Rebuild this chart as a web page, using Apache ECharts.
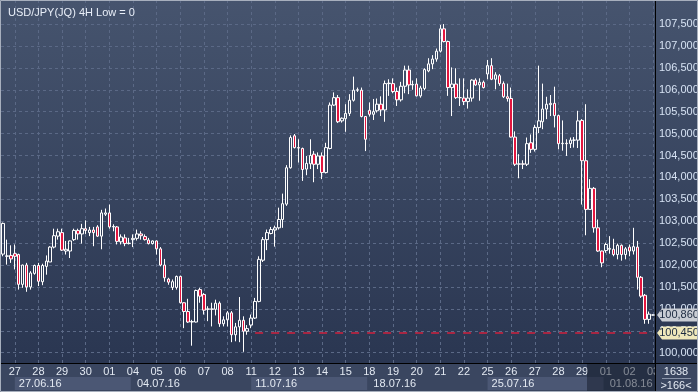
<!DOCTYPE html>
<html><head><meta charset="utf-8">
<script src="https://cdn.jsdelivr.net/npm/echarts@6/dist/echarts.min.js"></script>
<style>html,body{margin:0;padding:0;background:#2e3a52;}#c{width:698px;height:392px;}</style>
</head><body><div id="c"></div>
<script>
// ---- data ----
const days = ['24.06','27.06','28.06','29.06','30.06','01.07','04.07','05.07','06.07','07.07','08.07','11.07','12.07','13.07','14.07','15.07','18.07','19.07','20.07','21.07','22.07','25.07','26.07','27.07','28.07','29.07','01.08','02.08','03.08'];
const hours = ['00:00','04:00','08:00','12:00','16:00','20:00'];
const weekStarts = ['27.06','04.07','11.07','18.07','25.07','01.08'];
const yTicks = [100,100.5,101,101.5,102,102.5,103,103.5,104,104.5,105,105.5,106,106.5,107,107.5];
const supportLevel = 100.45;
const lastPrice = 100.86;
// [open, close, low, high]
const ohlc = [
[102.25,102.95,102.20,102.97],[102.20,102.21,102.01,102.58],[102.22,102.14,102.05,102.45],[102.26,102.20,101.90,102.47],
[102.24,101.56,101.44,102.26],[101.56,102.00,101.48,102.01],[102.00,101.50,101.39,102.05],[101.50,101.82,101.44,101.86],
[101.81,101.99,101.78,102.01],[101.99,101.63,101.52,102.05],[101.62,101.99,101.54,102.03],[101.97,102.09,101.78,102.22],
[102.07,102.41,102.07,102.43],[102.41,102.67,102.38,102.83],[102.66,102.76,102.58,102.83],[102.74,102.34,102.32,102.83],
[102.32,102.36,102.24,102.55],[102.32,102.55,102.16,102.56],[102.58,102.79,102.55,102.83],[102.79,102.71,102.58,102.83],
[102.71,102.83,102.49,102.94],[102.83,102.79,102.71,103.02],[102.74,102.80,102.66,102.87],[102.80,102.74,102.43,102.87],
[102.87,102.66,102.64,102.91],[102.66,103.19,102.36,103.26],[103.16,103.19,103.12,103.29],[103.19,102.87,102.83,103.38],
[102.87,102.88,102.77,102.93],[102.87,102.54,102.47,102.89],[102.53,102.64,102.47,102.70],[102.62,102.49,102.43,102.70],
[102.49,102.50,102.47,102.62],[102.58,102.61,102.41,102.70],[102.61,102.71,102.56,102.81],[102.71,102.67,102.58,102.77],
[102.65,102.58,102.56,102.70],[102.57,102.49,102.47,102.62],[102.49,102.55,102.47,102.56],[102.55,102.37,102.24,102.56],
[102.37,102.00,101.97,102.41],[102.00,101.71,101.62,102.14],[101.68,101.61,101.55,101.71],[101.49,101.62,101.43,101.67],
[101.49,101.74,101.44,101.76],[101.74,101.14,101.12,101.76],[101.14,100.94,100.56,101.15],[100.94,100.70,100.68,101.23],
[100.70,100.71,100.16,100.75],[100.70,101.42,100.69,101.44],[101.44,101.29,101.14,101.48],[101.33,100.97,100.87,101.36],
[100.99,101.00,100.72,101.06],[101.00,100.99,100.60,101.14],[100.99,101.13,100.85,101.21],[101.13,100.66,100.59,101.17],
[100.66,100.75,100.60,100.83],[100.75,100.91,100.60,100.95],[100.91,100.41,100.24,100.95],[100.41,100.59,100.26,100.68],
[100.59,100.74,100.24,101.27],[100.74,100.49,100.02,100.83],[100.49,100.55,100.41,100.63],[100.63,100.79,100.56,100.87],
[100.79,101.17,100.77,101.25],[101.17,102.13,101.15,102.20],[102.11,102.58,102.07,102.64],[102.58,102.74,102.34,102.81],
[102.72,102.81,102.70,102.87],[102.80,102.85,102.42,102.90],[102.85,103.04,102.81,103.31],[103.04,103.40,102.85,103.63],
[103.39,104.22,103.35,104.28],[104.22,104.91,104.20,104.96],[104.95,104.68,104.66,104.99],[104.68,104.67,104.34,104.87],
[104.66,104.18,103.92,104.68],[104.19,104.32,104.05,104.49],[104.31,104.50,104.19,104.87],[104.53,104.30,103.89,104.60],
[104.30,104.49,104.19,104.57],[104.49,104.11,103.96,104.57],[104.11,104.68,104.09,104.79],[104.66,105.65,104.64,105.71],
[105.65,105.82,105.63,105.94],[105.82,105.27,105.24,105.88],[105.29,105.35,105.25,105.37],[105.34,105.46,105.04,105.67],
[105.46,105.76,105.40,105.90],[105.76,105.99,105.73,106.30],[105.99,106.00,105.95,106.05],[105.99,105.39,105.37,106.05],
[105.39,104.87,104.60,105.40],[105.53,105.44,105.39,105.71],[105.44,105.50,105.31,105.79],[105.52,105.67,105.48,105.80],
[105.67,105.54,105.40,105.85],[105.54,106.14,105.27,106.21],[106.14,106.15,105.86,106.24],[106.14,105.96,105.92,106.26],
[105.96,105.77,105.63,106.05],[105.77,106.08,105.73,106.18],[106.08,106.45,105.92,106.55],[106.45,106.11,105.90,106.55],
[106.11,106.12,106.00,106.21],[106.13,105.86,105.85,106.26],[105.86,106.04,105.82,106.09],[106.03,106.46,105.99,106.49],
[106.43,106.59,106.40,106.72],[106.59,106.70,106.47,106.79],[106.70,106.88,106.64,106.94],[106.88,107.39,106.85,107.48],
[107.39,107.10,107.08,107.50],[107.10,106.05,105.86,107.12],[106.05,106.13,105.40,106.51],[106.13,105.82,105.79,106.49],
[105.82,105.82,105.63,106.26],[105.81,105.73,105.65,106.26],[105.73,105.81,105.57,106.01],[105.81,106.22,105.73,106.24],
[106.22,106.11,106.09,106.26],[106.11,106.17,105.75,106.26],[106.17,106.05,106.03,106.21],[106.36,106.55,106.24,106.68],
[106.55,106.24,106.22,106.72],[106.24,106.34,106.01,106.40],[106.32,106.14,106.09,106.36],[106.14,105.84,105.81,106.19],
[105.84,105.80,105.73,106.14],[105.80,104.92,104.91,106.05],[104.92,104.30,104.26,105.05],[104.30,104.31,103.98,104.53],
[104.31,104.30,104.19,104.39],[104.30,104.77,104.26,104.91],[104.79,104.64,104.56,104.98],[104.64,105.14,104.59,105.20],
[105.14,105.29,105.01,106.55],[105.27,105.56,105.10,106.14],[105.56,105.67,105.33,105.84],[105.66,105.69,105.40,105.88],
[105.69,105.41,105.14,106.07],[105.41,104.77,104.64,105.43],[104.77,104.78,104.61,105.30],[104.78,104.77,104.49,104.87],
[104.77,104.85,104.67,104.91],[104.85,104.85,104.68,104.92],[104.85,105.29,104.67,105.52],[105.30,104.38,103.38,105.33],
[104.38,103.27,102.68,105.67],[103.27,103.75,103.27,103.96],[103.75,102.85,102.74,103.78],[102.85,102.32,102.30,103.04],
[102.32,102.05,101.95,102.33],[102.33,102.47,102.28,102.51],[102.36,102.38,102.26,102.66],[102.36,102.24,102.20,102.60],
[102.24,102.45,102.13,102.49],[102.45,102.24,102.10,102.47],[102.24,102.37,102.13,102.41],[102.41,102.32,102.20,102.47],
[102.32,102.42,102.24,102.85],[102.41,101.72,101.44,102.55],[101.72,101.29,101.25,101.75],[101.31,100.76,100.66,101.34],
[100.76,100.88,100.66,100.94],[100.86,100.86,100.85,100.87]
];

// ---- categories ----
const categories = [];
days.forEach((d, k) => hours.forEach((h, j) => {
  if (k === 0 && j < 3) return;
  if (categories.length < ohlc.length) categories.push(d + ' ' + h);
}));
const lastCat = categories[categories.length - 1];
const supportStart = categories[64];
const fmtPrice = v => v.toFixed(3).replace('.', ',');
const FONT = '"Liberation Sans", Arial, sans-serif';

const chart = echarts.init(document.getElementById('c'), null, {renderer: 'canvas'});
const tagPath = 'path://M0,6.5 L5,0 L40,0 L40,13 L5,13 Z';
const splitY = 363 / 392;

chart.setOption({
  animation: false,
  backgroundColor: new echarts.graphic.LinearGradient(0, 0, 0, 1, [
    {offset: 0, color: '#46546e'}, {offset: splitY, color: '#2a3651'},
    {offset: splitY, color: '#3a4660'}, {offset: 1, color: '#3a4660'}]),
  title: {text: 'USD/JPY(JQ) 4H Low = 0', left: 3, top: 2,
    textStyle: {color: '#e8eef8', fontSize: 11, fontWeight: 'normal', fontFamily: FONT}},
  grid: {left: 1, right: 43, top: 0, bottom: 29, containLabel: false, outerBoundsMode: 'none'},
  xAxis: [{
    type: 'category', data: categories, boundaryGap: true,
    axisLine: {show: true, lineStyle: {color: '#000', width: 1}},
    axisTick: {show: false}, splitLine: {show: false},
    axisLabel: {interval: (i, v) => v.endsWith('00:00'), formatter: v => v.slice(0, 2), hideOverlap: false,
      color: '#e3e9f2', fontSize: 11, margin: 3, fontFamily: FONT}
  }, {
    type: 'category', data: categories, boundaryGap: true, position: 'bottom', offset: 14,
    axisLine: {show: false}, axisTick: {show: false}, splitLine: {show: false},
    axisLabel: {
      interval: (i, v) => v.endsWith('00:00') && weekStarts.includes(v.slice(0, 5)),
      formatter: v => { const k = weekStarts.indexOf(v.slice(0, 5)); return '{' + (k % 2 === 0 ? 'a' : 'b') + '|' + v.slice(0, 5) + '.16}'; },
      align: 'left', margin: 0, fontFamily: FONT, hideOverlap: false,
      rich: {
        a: {backgroundColor: '#4b5774', width: 112, height: 13, lineHeight: 13, padding: [0, 0, 0, 4], color: '#e3e9f2', fontSize: 11, fontFamily: FONT},
        b: {width: 40, height: 13, lineHeight: 13, padding: [0, 0, 0, 4], color: '#e3e9f2', fontSize: 11, fontFamily: FONT}
      }
    }
  }],
  yAxis: {
    type: 'value', position: 'right', min: 99.765, max: 108.048, scale: true,
    axisLine: {show: true, lineStyle: {color: '#000', width: 1}},
    axisTick: {show: false, customValues: yTicks}, splitLine: {show: false},
    axisLabel: {customValues: yTicks, formatter: fmtPrice, color: '#d6e2f3', fontSize: 11, margin: 4, fontFamily: FONT}
  },
  series: [{
    type: 'line', data: [], silent: true, z: 1,
    markLine: {
      z: 1, silent: true, symbol: 'none', animation: false, label: {show: false},
      lineStyle: {color: '#5b6986', type: [3, 3], width: 1},
      data: yTicks.map(v => ({yAxis: v})).concat(
        categories.filter(c => c.endsWith('00:00')).map(c => ({xAxis: c})))
    }
  }, {
    type: 'candlestick', data: ohlc, barWidth: 3, z: 3,
    itemStyle: {color: 'rgba(0,0,0,0)', color0: '#e3163f', borderColor: '#ffffff', borderColor0: '#ffffff', borderWidth: 1},
    markLine: {
      silent: true, symbol: 'none', animation: false, label: {show: false},
      lineStyle: {color: '#d0203e', type: [8, 8], width: 1.5},
      data: [[{coord: [supportStart, supportLevel]}, {coord: [lastCat, supportLevel]}]]
    },
    markPoint: {
      silent: true, animation: false,
      data: [
        {coord: [lastCat, lastPrice], symbol: tagPath, symbolSize: [40, 13], symbolOffset: [24, 0],
          itemStyle: {color: '#c9cdd4'}, label: {show: true, position: 'inside', offset: [2, 0], formatter: fmtPrice(lastPrice), color: '#1c2a40', fontSize: 11, fontFamily: FONT}},
        {coord: [lastCat, supportLevel], symbol: tagPath, symbolSize: [40, 13], symbolOffset: [24, 0],
          itemStyle: {color: '#efe8bb'}, label: {show: true, position: 'inside', offset: [2, 0], formatter: fmtPrice(supportLevel), color: '#1c2a40', fontSize: 11, fontFamily: FONT}}
      ]
    }
  }],
  graphic: [
    {type: 'rect', z: 100, silent: true, shape: {x: 587, y: 364, width: 68, height: 28}, style: {fill: 'rgba(14,20,34,0.45)'}},
    {type: 'rect', z: 101, silent: true, shape: {x: 656, y: 364, width: 42, height: 28}, style: {fill: '#3a4660'}},
    {type: 'line', z: 102, silent: true, shape: {x1: 655, y1: 363.5, x2: 698, y2: 363.5}, style: {stroke: '#000', lineWidth: 1}},
    {type: 'line', z: 102, silent: true, shape: {x1: 655.5, y1: 363, x2: 655.5, y2: 392}, style: {stroke: '#000', lineWidth: 1}},
    {type: 'text', z: 102, silent: true, x: 676, y: 366, style: {text: '1638', fill: '#e3e9f2', font: '11px ' + FONT, textAlign: 'center'}},
    {type: 'line', z: 102, silent: true, shape: {x1: 662, y1: 378.5, x2: 691, y2: 378.5}, style: {stroke: '#8893a8', lineWidth: 1}},
    {type: 'text', z: 102, silent: true, x: 676, y: 380, style: {text: '>166<', fill: '#e3e9f2', font: '11px ' + FONT, textAlign: 'center'}},
    {type: 'rect', z: 200, silent: true, shape: {x: 0.5, y: 0.5, width: 697, height: 391}, style: {fill: null, stroke: '#a7afbd', lineWidth: 1}}
  ]
});
</script></body></html>
